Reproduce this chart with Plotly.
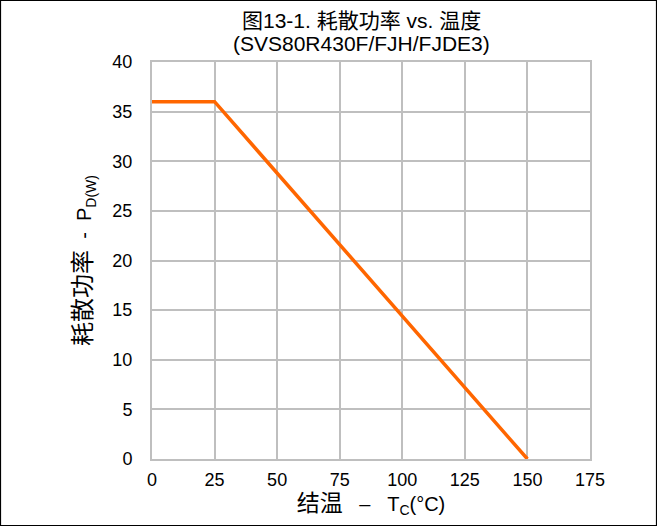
import plotly.graph_objects as go

temp_c = [0, 25, 150]
power_w = [36, 36, 0]
x_ticks = [0, 25, 50, 75, 100, 125, 150, 175]
y_ticks = [0, 5, 10, 15, 20, 25, 30, 35, 40]
title_lines = ["图13-1. 耗散功率 vs. 温度", "(SVS80R430F/FJH/FJDE3)"]

font_fam = "Liberation Sans, Arial, Noto Sans CJK SC, sans-serif"
PW, PH = 438, 397

def cjk(s, size=23):
    return f"<span style='font-size:{size}px'>{s}</span>"

fig = go.Figure()
fig.add_trace(go.Scatter(x=temp_c, y=power_w, mode="lines",
                         line=dict(color="#FF6600", width=3.5), showlegend=False))

fig.update_layout(
    width=657, height=526,
    margin=dict(l=152, r=67, t=62, b=67),
    paper_bgcolor="white", plot_bgcolor="white",
    font=dict(family=font_fam, size=18, color="#000000"),
    xaxis=dict(range=[0, 175], tickvals=x_ticks, ticktext=[str(v) for v in x_ticks],
               showgrid=True, gridcolor="#BFBFBF", gridwidth=2,
               showline=True, linecolor="#BFBFBF", linewidth=2, mirror=True,
               zeroline=False, ticks="", ticklen=0, ticklabelstandoff=3,
               title=dict(text=cjk("结温") + "   –   T<sub>C</sub>(°C)", standoff=2,
                          font=dict(size=20, family=font_fam)),
               tickfont=dict(size=18)),
    yaxis=dict(range=[0, 40], tickvals=y_ticks, ticktext=[str(v) for v in y_ticks],
               showgrid=True, gridcolor="#BFBFBF", gridwidth=2,
               showline=True, linecolor="#BFBFBF", linewidth=2, mirror=True,
               zeroline=False, ticks="", ticklen=0, ticklabelstandoff=14,
               title=dict(text=cjk("耗散功率", 24) + "  -  P<sub>D(W)</sub>", standoff=15,
                          font=dict(size=20, family=font_fam)),
               tickfont=dict(size=18)),
)

fig.add_annotation(text=title_lines[0], xref="paper", yref="paper", x=0.5 - 10/PW,
                   y=1 + 42/PH, xanchor="center", yanchor="middle", showarrow=False,
                   font=dict(size=21, family=font_fam))
fig.add_annotation(text=title_lines[1], xref="paper", yref="paper", x=0.5 - 10/PW,
                   y=1 + 19/PH, xanchor="center", yanchor="middle", showarrow=False,
                   font=dict(size=21, family=font_fam))

fig.add_shape(type="rect", xref="paper", yref="paper",
              x0=-151.5/PW, x1=1 + 66.5/PW, y0=-66.5/PH, y1=1 + 61.5/PH,
              line=dict(color="black", width=1.2), fillcolor="rgba(0,0,0,0)", layer="below")

fig.write_html("out.html", config={"displayModeBar": False},
               post_script="document.body.style.margin='0';document.body.style.padding='0';")
